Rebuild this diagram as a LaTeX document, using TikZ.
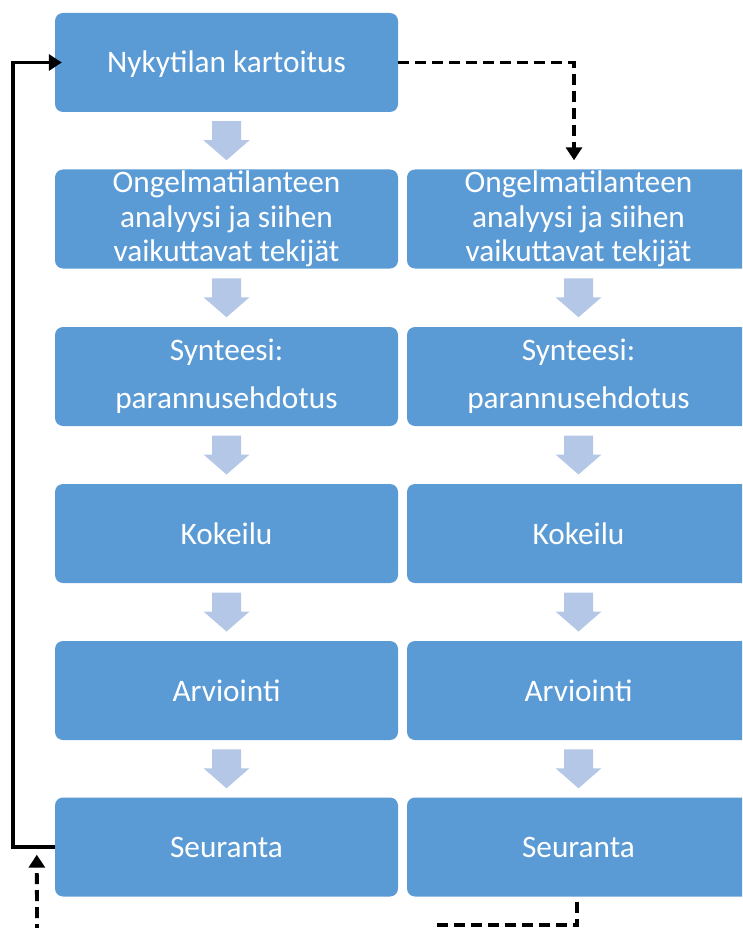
\documentclass[tikz,border=0pt]{standalone}
\usepackage{fontspec}
\setmainfont{Carlito}
\usetikzlibrary{arrows.meta,calc}
\definecolor{boxblue}{HTML}{5B9BD5}
\definecolor{arrowblue}{HTML}{B4C7E7}
\tikzset{
  stagebox/.style={rectangle, rounded corners=8pt, fill=boxblue, draw=none,
    minimum width=343pt, minimum height=99pt, inner sep=0pt},
  stagetext/.style={text=white, align=center, inner sep=0pt,
    font=\fontsize{31.3}{34.6}\selectfont},
  flowline/.style={line width=3.8pt, line join=miter},
  flowdash/.style={flowline, dash pattern=on 11pt off 6pt},
  headtip/.style={-{Triangle[length=13pt,width=16pt]}},
}
% light block arrow pointing down, centred at the given point
\newcommand{\downblock}[1]{%
  \fill[arrowblue] ($#1$) ++(-14.5,-19.5) -- ++(29,0) -- ++(0,19)
    -- ++(8.5,0) -- ++(-23,20) -- ++(-23,-20) -- ++(8.5,0) -- cycle;}
\begin{document}
\begin{tikzpicture}[x=1pt,y=-1pt]
\useasboundingbox (0,0) rectangle (742,928);
\clip (0,0) rectangle (742,928);

% left column
\node[stagebox] (l1) at (226.5,62.5) {};
\node[stagebox] (l2) at (226.5,219) {};
\node[stagebox] (l3) at (226.5,376.5) {};
\node[stagebox] (l4) at (226.5,533.5) {};
\node[stagebox] (l5) at (226.5,690.5) {};
\node[stagebox] (l6) at (226.5,847) {};
% right column
\node[stagebox] (r2) at (578.5,219) {};
\node[stagebox] (r3) at (578.5,376.5) {};
\node[stagebox] (r4) at (578.5,533.5) {};
\node[stagebox] (r5) at (578.5,690.5) {};
\node[stagebox] (r6) at (578.5,847) {};

% texts
\node[stagetext] (t1) at ($(l1)+(0,1.5)$) {Nykytilan kartoitus};
\node[stagetext] (t2) at (l2) {Ongelmatilanteen\\analyysi ja siihen\\vaikuttavat tekijät};
\node[stagetext] (t3) at (l3) {Synteesi:\\[13.4pt]parannusehdotus};
\node[stagetext] (t4) at (l4) {Kokeilu};
\node[stagetext] (t5) at (l5) {Arviointi};
\node[stagetext] (t6) at (l6) {Seuranta};
\node[stagetext] (u2) at (r2) {Ongelmatilanteen\\analyysi ja siihen\\vaikuttavat tekijät};
\node[stagetext] (u3) at (r3) {Synteesi:\\[13.4pt]parannusehdotus};
\node[stagetext] (u4) at (r4) {Kokeilu};
\node[stagetext] (u5) at (r5) {Arviointi};
\node[stagetext] (u6) at (r6) {Seuranta};

% block arrows between stages
\foreach \a/\b in {l1/l2,l2/l3,l3/l4,l4/l5,l5/l6,r2/r3,r3/r4,r4/r5,r5/r6}{
  \downblock{(\a.south)!0.5!(\b.north)}
}

% feedback loop on the left
\draw[flowline,headtip] (l6.west) -- ++(-41.5,0) |- ($(l1.west)+(7,0)$);

% dashed branch to the second round
\draw[flowdash,headtip] (l1.east) -| ($(r2.north)+(-4.5,-9)$);

% dashed return from the second round
\coordinate (rs) at ($(r6.south)+(-1.5,5)$);
\draw[flowdash] (rs) -- ++(0,23.5) -- ++(-142,0);
\coordinate (ls) at (37,935);
\draw[flowdash,headtip] (ls) -- ($(l6.south west)+(-18,-42)$);
\end{tikzpicture}
\end{document}
